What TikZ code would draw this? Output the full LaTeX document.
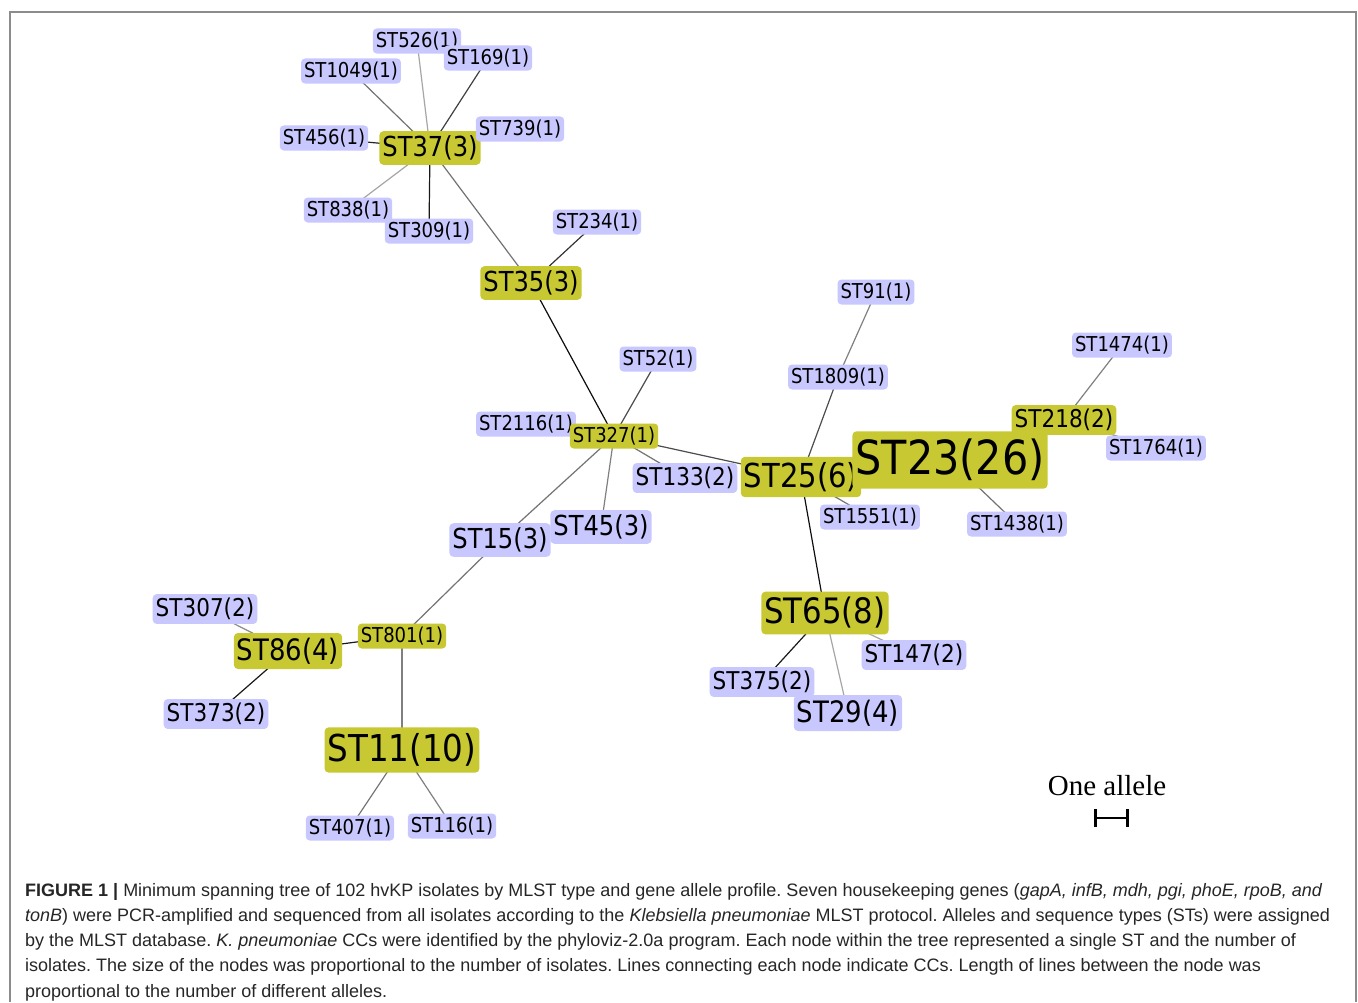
\documentclass[tikz,border=0pt]{standalone}
\usepackage{fontspec}
\setmainfont{Liberation Sans}
\newfontfamily\stfont{DejaVu Sans}[FakeStretch=0.88]
\newfontfamily\capfont{Liberation Sans}
\newfontfamily\allelefont{Liberation Serif}
\usetikzlibrary{arrows.meta, backgrounds}

\definecolor{ccyellow}{RGB}{200,200,50}
\definecolor{stblue}{RGB}{200,200,255}

\begin{document}
\begin{tikzpicture}[
	x=1pt,
	y=-1pt,
	st/.style={
		rounded corners=4pt,
		inner xsep=3pt,
		inner ysep=0pt,
		minimum height={1.22*#1pt},
		font=\stfont\fontsize{#1}{#1}\selectfont,
		fill=stblue
	},
	cc/.style={
		st=#1,
		fill=ccyellow
	},
	link/.style={line width=1.2pt}
	]
	\useasboundingbox (0,0) rectangle (1358,1002);

	% ST37 / ST35 group
	\node[cc=27.5] (st37) at (430,148) {ST37(3)};
	\node[st=20.5] (st1049) at (351,71) {ST1049(1)};
	\node[st=20.5] (st526) at (417,41) {ST526(1)};
	\node[st=20.5] (st169) at (488,58) {ST169(1)};
	\node[st=20.5] (st739) at (520,129) {ST739(1)};
	\node[st=20.5] (st456) at (324,138) {ST456(1)};
	\node[st=20.5] (st838) at (348,210) {ST838(1)};
	\node[st=20.5] (st309) at (429,231) {ST309(1)};
	\node[cc=27.5] (st35) at (531,283) {ST35(3)};
	\node[st=20.5] (st234) at (597,222) {ST234(1)};

	% around ST327
	\node[st=20.5] (st2116) at (526,424) {ST2116(1)};
	\node[cc=20.5] (st327) at (614,436) {ST327(1)};
	\node[st=20.5] (st52) at (658,359) {ST52(1)};
	\node[st=24.5] (st133) at (685,478) {ST133(2)};
	\node[st=27.5] (st45) at (601,527) {ST45(3)};
	\node[st=27.5] (st15) at (500,540) {ST15(3)};

	% ST25 / ST23 group
	\node[cc=33] (st25) at (801,477) {ST25(6)};
	\node[cc=47] (st23) at (950,460) {ST23(26)};
	\node[st=20.5] (st1809) at (838,377) {ST1809(1)};
	\node[st=20.5] (st91) at (876,292) {ST91(1)};
	\node[st=20.5] (st1551) at (870,517) {ST1551(1)};
	\node[st=20.5] (st1438) at (1017,524) {ST1438(1)};
	\node[cc=24.5] (st218) at (1064,420) {ST218(2)};
	\node[st=20.5] (st1474) at (1122,345) {ST1474(1)};
	\node[st=20.5] (st1764) at (1156,448) {ST1764(1)};

	% ST65 group
	\node[cc=35] (st65) at (825,613) {ST65(8)};
	\node[st=24.5] (st147) at (914,655) {ST147(2)};
	\node[st=24.5] (st375) at (762,682) {ST375(2)};
	\node[st=29.5] (st29) at (848,713) {ST29(4)};

	% ST11 / ST86 group
	\node[cc=20.5] (st801) at (402,636) {ST801(1)};
	\node[cc=29.5] (st86) at (288,651) {ST86(4)};
	\node[st=24.5] (st307) at (205,609) {ST307(2)};
	\node[st=24.5] (st373) at (216,714) {ST373(2)};
	\node[cc=37] (st11) at (402,750) {ST11(10)};
	\node[st=20.5] (st407) at (350,828) {ST407(1)};
	\node[st=20.5] (st116) at (452,826) {ST116(1)};

	% links, grey level = share of black
	\begin{scope}[on background layer]
		\fill[white] (0,0) rectangle (1358,1002);
		\foreach \a/\b/\g in {st37/st526/35, st37/st169/75, st37/st1049/55,
			st37/st456/85, st37/st838/35, st37/st309/90, st37/st35/55,
			st35/st234/80, st35/st327/95, st327/st52/70, st327/st133/55,
			st327/st25/70, st327/st15/55, st327/st45/50, st15/st801/55,
			st801/st86/90, st801/st11/50, st86/st307/45, st86/st373/90,
			st11/st407/55, st11/st116/50, st25/st1809/70, st1809/st91/50,
			st25/st1551/55, st25/st65/95, st23/st1438/55, st218/st1474/50,
			st218/st1764/50, st65/st375/90, st65/st29/35, st65/st147/35} {
			\draw[link, draw=black!\g] (\a.center) -- (\b.center);
		}
	\end{scope}

	% scale bar
	\node[font=\allelefont\fontsize{29}{29}\selectfont] (allele) at (1107,786) {One allele};
	\coordinate (barl) at (1094,818);
	\coordinate (barr) at (1129,818);
	\draw[line width=2.6pt, {Bar[width=18pt]}-{Bar[width=18pt]}] (barl) -- (barr);

	% frame and caption
	\draw[black!45, line width=1.2pt] (10,1002) -- (10,12) -- (1356,12) -- (1356,1002);
	\node[anchor=north west, inner sep=0pt, align=left, text=black!85,
		font=\capfont\fontsize{18}{25.2}\selectfont\frenchspacing] (caption) at (25,883)
		{\textbf{FIGURE 1 |} Minimum spanning tree of 102 hvKP isolates by MLST type and gene allele profile. Seven housekeeping genes (\textit{gapA, infB, mdh, pgi, phoE, rpoB, and}\\
		\textit{tonB}) were PCR-amplified and sequenced from all isolates according to the \textit{Klebsiella pneumoniae} MLST protocol. Alleles and sequence types (STs) were assigned\\
		by the MLST database. \textit{K. pneumoniae} CCs were identified by the phyloviz-2.0a program. Each node within the tree represented a single ST and the number of\\
		isolates. The size of the nodes was proportional to the number of isolates. Lines connecting each node indicate CCs. Length of lines between the node was\\
		proportional to the number of different alleles.};
\end{tikzpicture}
\end{document}
